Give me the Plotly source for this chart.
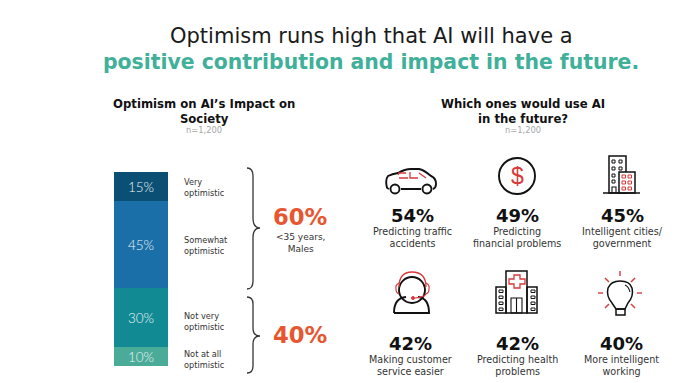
import plotly.graph_objects as go

# --- data ---
segments = ["Not at all optimistic", "Not very optimistic", "Somewhat optimistic", "Very optimistic"]
segment_values = [10, 30, 45, 15]
segment_colors = ["#49AB98", "#128A94", "#1B6FA8", "#0B4F74"]
segment_labels = ["Not at all<br>optimistic", "Not very<br>optimistic", "Somewhat<br>optimistic", "Very<br>optimistic"]
segment_label_y = [359, 321, 245, 187]

use_pcts = ["54%", "49%", "45%", "42%", "42%", "40%"]
use_labels = ["Predicting traffic<br>accidents", "Predicting<br>financial problems",
              "Intelligent cities/<br>government", "Making customer<br>service easier",
              "Predicting health<br>problems", "More intelligent<br>working"]
use_x = [412, 517, 622, 410, 517, 621]
use_pct_y = [215, 215, 215, 343, 343, 343]
use_label_y = [237, 237, 237, 365, 365, 365]

DARK = "#111111"
GREY = "#333333"
RED = "#D8393B"
ORANGE = "#E8562F"
TEAL = "#3FB09A"
FONT = "DejaVu Sans"
W, H = 700, 383

fig = go.Figure()
for name, v, c in zip(segments, segment_values, segment_colors):
    fig.add_trace(go.Bar(x=[0], y=[v], name=name, marker=dict(color=c, line=dict(width=0)),
                         text=[f"{v}%"], textposition="inside", insidetextanchor="middle",
                         textangle=0, constraintext="none",
                         textfont=dict(family="Lato Light, Lato", size=13.5, color="#EAF4F4"),
                         hoverinfo="skip"))

shapes, annos = [], []


def line(path, color=DARK, width=1.6, fill=None):
    s = dict(type="path", path=path, xref="x2", yref="y2", line=dict(color=color, width=width))
    if fill:
        s["fillcolor"] = fill
    shapes.append(s)


def circle(cx, cy, r, color=DARK, width=1.6, fill=None):
    s = dict(type="circle", xref="x2", yref="y2", x0=cx - r, x1=cx + r, y0=cy - r, y1=cy + r,
             line=dict(color=color, width=width))
    if fill:
        s["fillcolor"] = fill
    shapes.append(s)


def rect(x0, y0, x1, y1, color=DARK, width=1.2, fill=None):
    s = dict(type="rect", xref="x2", yref="y2", x0=x0, x1=x1, y0=y0, y1=y1, line=dict(color=color, width=width))
    if fill:
        s["fillcolor"] = fill
    shapes.append(s)


def text(x, y, t, size, color=DARK, bold=False, anchor="center", family=FONT):
    if bold:
        t = f"<b>{t}</b>"
    annos.append(dict(x=x, y=y, xref="x2", yref="y2", text=t, showarrow=False, xanchor=anchor, yanchor="middle",
                      align="left" if anchor == "left" else "center",
                      font=dict(family=family, size=size, color=color)))


# titles
text(371, 36, "Optimism runs high that AI will have a", 21, "#1A1A1A")
text(371, 62, "positive contribution and impact in the future.", 20.4, TEAL, bold=True)
text(204, 111, "Optimism on AI’s Impact on<br>Society", 11.7, DARK, bold=True)
text(204, 130, "n=1,200", 8.3, "#A6A6A6")
text(523, 111, "Which ones would use AI<br>in the future?", 11.7, DARK, bold=True)
text(523, 130, "n=1,200", 8.3, "#A6A6A6")

# segment labels
for lab, y in zip(segment_labels, segment_label_y):
    text(182, y, lab, 8.2, GREY, anchor="left")

# braces
line("M 247 168 Q 253 168 253 176 L 253 218 Q 253 228 260 228 Q 253 228 253 238 L 253 281 Q 253 289 247 289",
     "#333333", 1.3)
line("M 247 297 Q 253 297 253 304 L 253 328 Q 253 336 260 336 Q 253 336 253 344 L 253 366 Q 253 373 247 373",
     "#333333", 1.3)
text(300, 217, "60%", 22.7, ORANGE, bold=True)
text(300, 243, "&lt;35 years,<br>Males", 9, GREY)
text(300, 335, "40%", 22.7, ORANGE, bold=True)

# use-case texts
for x, p, l, py, ly in zip(use_x, use_pcts, use_labels, use_pct_y, use_label_y):
    text(x, py, p, 18, DARK, bold=True)
    text(x, ly, l, 9.6, GREY)

# car
line("M 387 188 Q 385 180 388 176 Q 392 174 398 173 Q 405 169 411 169 L 419 169 Q 424 170 431 176 "
     "Q 436 178 436 184 Q 436 188 433 189 M 421 189 L 401 189 M 389 189 L 387 188", DARK, 1.9)
circle(395, 189, 4.5, DARK, 1.9)
circle(427, 189, 4.5, DARK, 1.9)
line("M 398 175 L 399 173 L 406 173 M 399 178 L 408 178 M 410 172 L 410 178 L 418 178 M 419 173 L 426 178", RED, 1.3)

# dollar
circle(517, 176, 18, DARK, 1.9)
text(517, 176, "$", 23, RED, family="Liberation Sans")

# buildings
rect(609, 156, 626, 193, DARK, 1.5)
rect(619, 172, 635, 193, DARK, 1.5, fill="white")
for yy in (160, 167, 174, 180):
    rect(612, yy, 615, yy + 3, DARK, 1)
for yy in (160, 167):
    rect(619, yy, 622, yy + 3, DARK, 1)
for xx in (622, 628):
    for yy in (175, 181, 187):
        rect(xx, yy, xx + 3.5, yy + 3, RED, 1)
line("M 603 193 L 640 193", DARK, 1.5)
line("M 612 193 L 612 187 L 616 187 L 616 193", DARK, 1.1)

# headset
circle(412, 290, 13, DARK, 1.9)
line("M 394 313 Q 394 298 406 297 M 418 297 Q 429 298 429 313 L 394 313", DARK, 1.9)
line("M 399 287 Q 399 272 412 272 Q 426 272 426 287", RED, 1.3)
line("M 399 283 Q 395 285 396 289 Q 396 293 399 294", RED, 1.2)
line("M 426 283 Q 430 285 429 289 Q 429 293 426 294 Q 425 297 415 298", RED, 1.2)
circle(413, 298, 1.5, RED, 1, fill=RED)

# hospital
rect(506, 271, 527, 313, DARK, 1.5)
rect(496, 287, 506, 313, DARK, 1.5)
rect(527, 287, 537, 313, DARK, 1.5)
line("M 514 275 L 520 275 L 520 279 L 525 279 L 525 284 L 520 284 L 520 288 L 514 288 L 514 284 L 509 284 "
     "L 509 279 L 514 279 Z", RED, 1.3)
for xx in (499, 531):
    for yy in (290, 296, 302, 308):
        rect(xx, yy, xx + 4, yy + 2.5, DARK, 1)
rect(511, 298, 522, 313, DARK, 1.1)
line("M 516.5 298 L 516.5 313", DARK, 1.1)

# bulb
line("M 616 309 L 612 303 Q 606 296 608 288 Q 611 281 620 281 Q 630 281 632 288 Q 634 296 628 303 L 625 309 Z",
     DARK, 1.5)
rect(616, 309, 625, 315, DARK, 1.5)
line("M 625 285 Q 629 287 630 292", DARK, 1.1)
for r in ("M 620 271 L 620 276", "M 605 278 L 609 282", "M 635 278 L 631 282", "M 598 293 L 603 293",
          "M 637 293 L 642 293", "M 605 308 L 609 304", "M 635 308 L 631 304"):
    line(r, RED, 1.4)

fig.update_layout(
    width=W, height=H, barmode="stack", bargap=0, showlegend=False,
    margin=dict(l=0, r=0, t=0, b=0), paper_bgcolor="white", plot_bgcolor="rgba(0,0,0,0)",
    xaxis=dict(domain=[114 / W, 168 / W], visible=False, range=[-0.5, 0.5], fixedrange=True, anchor="y"),
    yaxis=dict(domain=[1 - 366 / H, 1 - 172 / H], visible=False, range=[0, 100], fixedrange=True, anchor="x"),
    xaxis2=dict(domain=[0, 1], range=[0, W], visible=False, anchor="y2", fixedrange=True),
    yaxis2=dict(domain=[0, 1], range=[H, 0], visible=False, anchor="x2", fixedrange=True),
    shapes=shapes, annotations=annos,
)
# keep the pixel-space helper axes alive with an invisible trace
fig.add_trace(go.Scatter(x=[0, W], y=[0, H], xaxis="x2", yaxis="y2", mode="markers",
                         marker=dict(opacity=0), hoverinfo="skip", showlegend=False))
fig.write_html("out.html", config=dict(displayModeBar=False),
               post_script="document.body.style.margin='0';document.body.style.overflow='hidden';")
